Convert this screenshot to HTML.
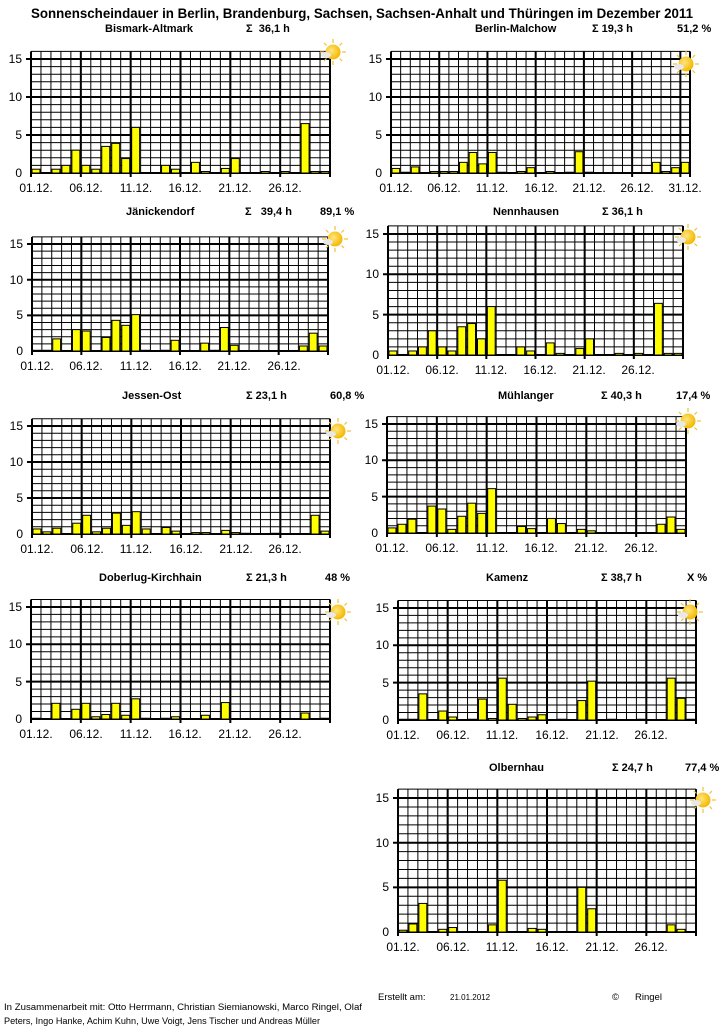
<!DOCTYPE html>
<html><head><meta charset="utf-8">
<style>
html,body{margin:0;padding:0;background:#fff;}
svg{display:block;font-family:"Liberation Sans",Arial,sans-serif;}
.t{font-size:12px;fill:#000}
.h{font-size:11px;font-weight:bold;fill:#000}
.m{font-size:13.5px;font-weight:bold;fill:#000}
.f{font-size:9.5px;fill:#000}
</style></head>
<body>
<svg id="s" width="723" height="1026" viewBox="0 0 723 1026" xmlns="http://www.w3.org/2000/svg">
<defs>
<radialGradient id="sg" cx="0.4" cy="0.4" r="0.6"><stop offset="0" stop-color="#ffe680"/><stop offset="1" stop-color="#f5b800"/></radialGradient>
<symbol id="sun" viewBox="-14 -14 28 28" overflow="visible">
<g stroke="#f0c040" stroke-width="1.2">
<line x1="0" y1="-13" x2="0" y2="-9"/><line x1="0" y1="13" x2="0" y2="9"/>
<line x1="-13" y1="0" x2="-9" y2="0"/><line x1="13" y1="0" x2="9" y2="0"/>
<line x1="-9" y1="-9" x2="-6.5" y2="-6.5"/><line x1="9" y1="9" x2="6.5" y2="6.5"/>
<line x1="-9" y1="9" x2="-6.5" y2="6.5"/><line x1="9" y1="-9" x2="6.5" y2="-6.5"/>
</g>
<circle cx="0" cy="0" r="7.5" fill="url(#sg)"/>
<ellipse cx="-7" cy="3" rx="5" ry="3" fill="#e8e8e8"/>
</symbol>
</defs>
<g id="grid"></g>

<text class="m" x="31" y="18" textLength="662" lengthAdjust="spacingAndGlyphs">Sonnenscheindauer in Berlin, Brandenburg, Sachsen, Sachsen-Anhalt und Thüringen im Dezember 2011</text>

<text class="h" x="105" y="32">Bismark-Altmark</text><text class="h" x="246" y="32">Σ&#160;&#160;36,1 h</text>
<text class="h" x="475" y="32">Berlin-Malchow</text><text class="h" x="592" y="32">Σ&#160;19,3 h</text><text class="h" x="677" y="32">51,2 %</text>
<text class="h" x="126" y="215">Jänickendorf</text><text class="h" x="245" y="215">Σ&#160;&#160;&#160;39,4 h</text><text class="h" x="320" y="215">89,1 %</text>
<text class="h" x="493" y="215">Nennhausen</text><text class="h" x="602" y="215">Σ&#160;36,1 h</text>
<text class="h" x="122" y="399">Jessen-Ost</text><text class="h" x="246" y="399">Σ&#160;23,1 h</text><text class="h" x="330" y="399">60,8 %</text>
<text class="h" x="498" y="399">Mühlanger</text><text class="h" x="601" y="399">Σ&#160;40,3 h</text><text class="h" x="676" y="399">17,4 %</text>
<text class="h" x="99" y="581">Doberlug-Kirchhain</text><text class="h" x="246" y="581">Σ&#160;21,3 h</text><text class="h" x="325" y="581">48 %</text>
<text class="h" x="486" y="581">Kamenz</text><text class="h" x="601" y="581">Σ&#160;38,7 h</text><text class="h" x="687" y="581">X %</text>
<text class="h" x="489" y="771">Olbernhau</text><text class="h" x="612" y="771">Σ&#160;24,7 h</text><text class="h" x="685" y="771">77,4 %</text>

<g class="t" text-anchor="end">
<text x="22" y="63">15</text><text x="22" y="101">10</text><text x="22" y="139">5</text><text x="22" y="177">0</text>
<text x="382" y="63">15</text><text x="382" y="101">10</text><text x="382" y="139">5</text><text x="382" y="177">0</text>
<text x="23" y="248">15</text><text x="23" y="284">10</text><text x="23" y="319">5</text><text x="23" y="355">0</text>
<text x="379" y="238">15</text><text x="379" y="278">10</text><text x="379" y="319">5</text><text x="379" y="359">0</text>
<text x="23" y="430">15</text><text x="23" y="466">10</text><text x="23" y="502">5</text><text x="23" y="538">0</text>
<text x="378" y="428">15</text><text x="378" y="464">10</text><text x="378" y="501">5</text><text x="378" y="537">0</text>
<text x="22" y="611">15</text><text x="22" y="648">10</text><text x="22" y="686">5</text><text x="22" y="723">0</text>
<text x="389" y="612">15</text><text x="389" y="649">10</text><text x="389" y="687">5</text><text x="389" y="724">0</text>
<text x="389" y="802">15</text><text x="389" y="847">10</text><text x="389" y="891">5</text><text x="389" y="936">0</text>
</g>
<g class="t" text-anchor="middle">
<text x="36" y="192">01.12.</text><text x="86" y="192">06.12.</text><text x="136" y="192">11.12.</text><text x="185" y="192">16.12.</text><text x="235" y="192">21.12.</text><text x="285" y="192">26.12.</text>
<text x="396" y="192">01.12.</text><text x="444" y="192">06.12.</text><text x="492" y="192">11.12.</text><text x="541" y="192">16.12.</text><text x="589" y="192">21.12.</text><text x="637" y="192">26.12.</text><text x="685" y="192">31.12.</text>
<text x="37" y="370">01.12.</text><text x="86" y="370">06.12.</text><text x="136" y="370">11.12.</text><text x="185" y="370">16.12.</text><text x="234" y="370">21.12.</text><text x="284" y="370">26.12.</text>
<text x="393" y="374">01.12.</text><text x="442" y="374">06.12.</text><text x="491" y="374">11.12.</text><text x="540" y="374">16.12.</text><text x="589" y="374">21.12.</text><text x="638" y="374">26.12.</text>
<text x="37" y="553">01.12.</text><text x="87" y="553">06.12.</text><text x="136" y="553">11.12.</text><text x="186" y="553">16.12.</text><text x="236" y="553">21.12.</text><text x="285" y="553">26.12.</text>
<text x="392" y="552">01.12.</text><text x="442" y="552">06.12.</text><text x="492" y="552">11.12.</text><text x="541" y="552">16.12.</text><text x="591" y="552">21.12.</text><text x="641" y="552">26.12.</text>
<text x="36" y="738">01.12.</text><text x="86" y="738">06.12.</text><text x="136" y="738">11.12.</text><text x="185" y="738">16.12.</text><text x="235" y="738">21.12.</text><text x="285" y="738">26.12.</text>
<text x="403" y="739">01.12.</text><text x="453" y="739">06.12.</text><text x="502" y="739">11.12.</text><text x="552" y="739">16.12.</text><text x="602" y="739">21.12.</text><text x="651" y="739">26.12.</text>
<text x="403" y="951">01.12.</text><text x="453" y="951">06.12.</text><text x="502" y="951">11.12.</text><text x="552" y="951">16.12.</text><text x="602" y="951">21.12.</text><text x="651" y="951">26.12.</text>
</g>

<use href="#sun" x="319" y="38" width="28" height="28"/>
<use href="#sun" x="672" y="50" width="28" height="28"/>
<use href="#sun" x="321" y="225" width="28" height="28"/>
<use href="#sun" x="674" y="223" width="28" height="28"/>
<use href="#sun" x="324" y="417" width="28" height="28"/>
<use href="#sun" x="674" y="407" width="28" height="28"/>
<use href="#sun" x="324" y="598" width="28" height="28"/>
<use href="#sun" x="676" y="598" width="28" height="28"/>
<use href="#sun" x="689" y="786" width="28" height="28"/>

<text class="f" x="378" y="1000">Erstellt am:</text>
<text x="450" y="1000" style="font-size:8px">21.01.2012</text>
<text class="f" x="612" y="1000">©</text><text class="f" x="635" y="1000">Ringel</text>
<text class="f" x="4" y="1010" textLength="358" lengthAdjust="spacingAndGlyphs">In Zusammenarbeit mit: Otto Herrmann, Christian Siemianowski, Marco Ringel, Olaf</text>
<text class="f" x="4" y="1024" textLength="316" lengthAdjust="spacingAndGlyphs">Peters, Ingo Hanke, Achim Kuhn, Uwe Voigt, Jens Tischer und Andreas Müller</text>
</svg>
<script>
var P=[
{x0:31,x1:330,y0:173,u:7.6,n:30,d:[0.5,0,0.5,1,3,1,0.5,3.5,3.9,1.9,6,0,0,1,0.5,0,1.4,0.2,0,0.6,1.9,0,0,0.2,0,0.2,0,6.5,0.2,0.2]},
{x0:391,x1:690,y0:173,u:7.6,n:31,d:[0.6,0.1,0.8,0,0.2,0.2,0.2,1.4,2.7,1.2,2.7,0.1,0,0.2,0.7,0,0.2,0,0.1,2.8,0.1,0,0,0,0,0,0,1.4,0.2,0.7,1.4]},
{x0:32,x1:328,y0:351,u:7.13,n:30,d:[0.1,0.1,1.7,0,3,2.8,0,1.9,4.3,3.6,5.1,0.1,0,0.1,1.5,0,0,1.1,0.1,3.3,0.8,0,0,0,0,0,0,0.7,2.5,0.7]},
{x0:388,x1:683,y0:355,u:8.07,n:30,d:[0.5,0,0.5,1,3,1,0.5,3.5,3.9,2,6,0,0,1,0.5,0,1.5,0.2,0,0.8,2,0,0,0.2,0,0.2,0,6.4,0.2,0.2]},
{x0:32,x1:330,y0:534,u:7.2,n:30,d:[0.7,0.3,0.8,0,1.5,2.6,0.3,0.8,2.9,1.2,3.1,0.7,0,0.9,0.4,0,0.2,0.2,0,0.5,0.2,0.1,0,0,0.1,0,0,0,2.6,0.4]},
{x0:387,x1:686,y0:533,u:7.27,n:30,d:[0.7,1.2,1.9,0,3.7,3.3,0.5,2.3,4.1,2.7,6.1,0,0,0.9,0.6,0,2,1.3,0,0.5,0.3,0,0,0,0,0,0,1.2,2.2,0.5]},
{x0:31,x1:330,y0:719,u:7.47,n:30,d:[0.1,0,2.1,0,1.3,2.1,0.3,0.6,2.1,0.5,2.7,0.1,0,0.1,0.3,0,0,0.5,0,2.2,0,0,0,0,0,0,0,0.8,0,0.1]},
{x0:398,x1:696,y0:720,u:7.47,n:30,d:[0.1,0.1,3.5,0,1.2,0.4,0,0.1,2.8,0.2,5.6,2.1,0.2,0.4,0.7,0,0.1,0,2.6,5.2,0,0.1,0,0,0.1,0,0,5.6,2.9,0.1]},
{x0:398,x1:696,y0:932,u:8.93,n:30,d:[0.2,0.9,3.2,0,0.3,0.5,0,0,0,0.8,5.8,0,0,0.4,0.3,0,0,0,5,2.6,0,0,0,0,0,0,0,0.8,0.3,0]}
];
var ns="http://www.w3.org/2000/svg",g=document.getElementById("grid");
function el(t,a){var e=document.createElementNS(ns,t);for(var k in a)e.setAttribute(k,a[k]);g.appendChild(e);return e;}
P.forEach(function(p){
 var w=(p.x1-p.x0)/p.n, top=p.y0-16*p.u;
 for(var v=1;v<=16;v++){var y=p.y0-v*p.u,th=(v%5==0);
  el("line",{x1:p.x0-(th?5:0),x2:p.x1,y1:y,y2:y,stroke:"#000","stroke-width":th?2:1});}
 for(var k=0;k<=p.n;k++){var x=p.x0+k*w,th=(k%5==0||k==p.n);
  el("line",{x1:x,x2:x,y1:top,y2:p.y0+(th?4:0),stroke:"#000","stroke-width":th?2:1});}
 el("line",{x1:p.x0,x2:p.x1,y1:p.y0,y2:p.y0,stroke:"#000","stroke-width":2});
 p.d.forEach(function(v,i){ if(v<=0)return; var h=v*p.u;
  el("rect",{x:p.x0+i*w+1,y:p.y0-h,width:w-2,height:h,fill:"#ffff00",stroke:"#000","stroke-width":1});});
});
</script>
</body></html>
